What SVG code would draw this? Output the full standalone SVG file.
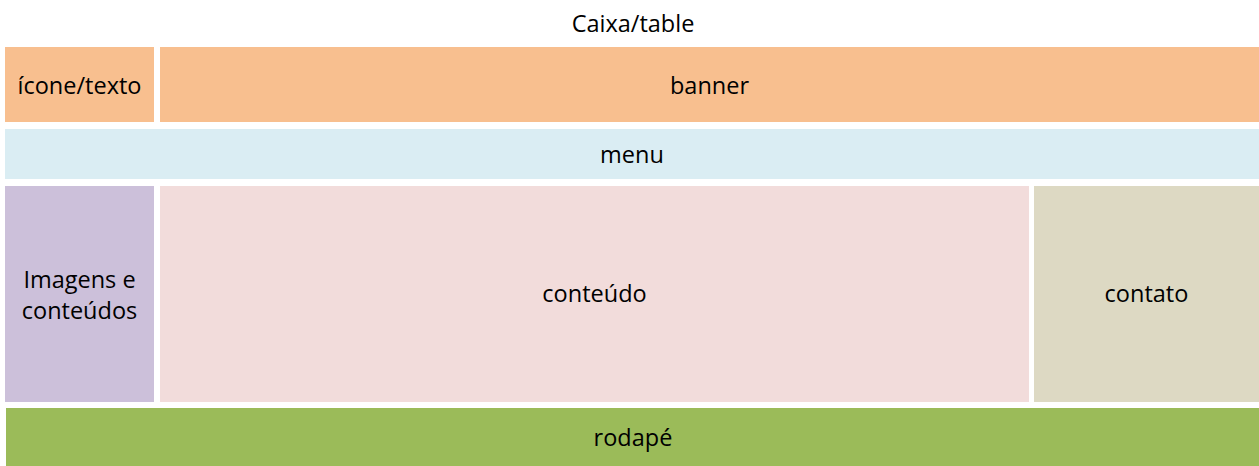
<svg xmlns="http://www.w3.org/2000/svg" width="1259" height="466" viewBox="0 0 1259 466">
<style>
text{font-family:"Open Sans","Liberation Sans",sans-serif;font-size:23.5px;fill:#000;text-anchor:middle}
</style>
<rect width="1259" height="466" fill="#fff"/>
<text x="633" y="32">Caixa/table</text>
<g id="icone"><rect x="5" y="47" width="149" height="75" fill="#F8BF8F"/><text x="79.5" y="94">ícone/texto</text></g>
<g id="banner"><rect x="160" y="47" width="1099" height="75" fill="#F8BF8F"/><text x="709.5" y="94">banner</text></g>
<g id="menu"><rect x="5" y="129" width="1254" height="50" fill="#DAEDF3"/><text x="632" y="163">menu</text></g>
<g id="imagens"><rect x="5" y="186" width="149" height="216" fill="#CCC0DA"/><text x="79.5" y="288">Imagens e</text><text x="79.5" y="319">conteúdos</text></g>
<g id="conteudo"><rect x="160" y="186" width="869" height="216" fill="#F2DCDB"/><text x="594.5" y="302">conteúdo</text></g>
<g id="contato"><rect x="1034" y="186" width="225" height="216" fill="#DDD9C3"/><text x="1146.5" y="302">contato</text></g>
<g id="rodape"><rect x="6" y="408" width="1253" height="58" fill="#9BBB59"/><text x="633" y="446">rodapé</text></g>
<g id="connectors"/>
</svg>
